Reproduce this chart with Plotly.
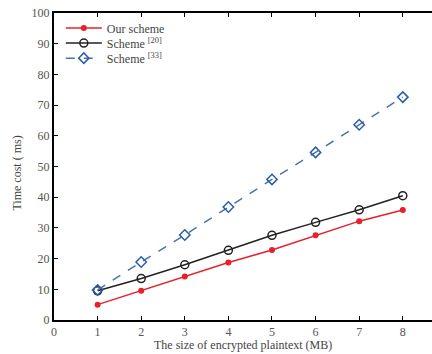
import plotly.graph_objects as go

x_mb = [1, 2, 3, 4, 5, 6, 7, 8]
our_scheme = [5.0, 9.5, 14.2, 18.7, 22.8, 27.6, 32.2, 35.8]
scheme_20 = [9.5, 13.5, 18.0, 22.7, 27.6, 31.8, 35.9, 40.5]
scheme_33 = [9.8, 18.9, 27.7, 36.8, 45.8, 54.6, 63.6, 72.6]
x_ticks = [0, 1, 2, 3, 4, 5, 6, 7, 8]
y_ticks = [0, 10, 20, 30, 40, 50, 60, 70, 80, 90, 100]

font = "Liberation Serif, Times New Roman, serif"
fig = go.Figure()
fig.add_trace(go.Scatter(x=x_mb, y=our_scheme, name="Our scheme", mode="lines+markers",
                         line=dict(color="#e8202a", width=1.5), legend="legend",
                         marker=dict(symbol="circle", size=6, color="#e8202a")))
fig.add_trace(go.Scatter(x=x_mb, y=scheme_20, name="Scheme <sup>[20]</sup>", mode="lines+markers",
                         line=dict(color="#222222", width=1.5), legend="legend2",
                         marker=dict(symbol="circle-open", size=8, color="#222222", line=dict(width=1.5))))
fig.add_trace(go.Scatter(x=x_mb, y=scheme_33, name="Scheme <sup>[33]</sup>", mode="lines+markers",
                         line=dict(color="#4a72a8", width=1.5, dash="dash"), legend="legend3",
                         marker=dict(symbol="diamond-open", size=8, color="#2a5fa8", line=dict(width=1.5))))

def leg(yc):
    return dict(x=0.018, y=yc, xanchor="left", yanchor="middle", bgcolor="rgba(0,0,0,0)",
                font=dict(family=font, size=12, color="#444444"), itemwidth=36)

fig.update_layout(
    width=432, height=354,
    margin=dict(l=54, r=0, t=13, b=34),
    paper_bgcolor="white", plot_bgcolor="white",
    font=dict(family=font, size=12, color="#555555"),
    showlegend=True,
    legend=leg(0.951), legend2=leg(0.902), legend3=leg(0.853),
    xaxis=dict(range=[0, 8.67], tickvals=x_ticks, showgrid=False, zeroline=False,
               showline=True, linecolor="black", linewidth=2, mirror="ticks",
               ticks="inside", ticklen=4, tickcolor="black", automargin=False,
               tickfont=dict(size=12)),
    yaxis=dict(range=[0, 100], tickvals=y_ticks, showgrid=False, zeroline=False,
               showline=True, linecolor="black", linewidth=2, mirror=False,
               ticks="inside", ticklen=4, tickcolor="black", automargin=False,
               tickfont=dict(size=12)),
    annotations=[
        dict(text="The size of encrypted plaintext (MB)", xref="paper", yref="paper",
             x=0.5, y=-0.081, xanchor="center", yanchor="middle", showarrow=False,
             font=dict(family=font, size=12, color="#444444")),
        dict(text="Time cost ( ms)", xref="paper", yref="paper", textangle=-90,
             x=-0.098, y=0.48, xanchor="center", yanchor="middle", showarrow=False,
             font=dict(family=font, size=12, color="#444444")),
    ],
)
fig.write_html("out.html", config={"displayModeBar": False},
               post_script="document.body.style.margin='0';")
